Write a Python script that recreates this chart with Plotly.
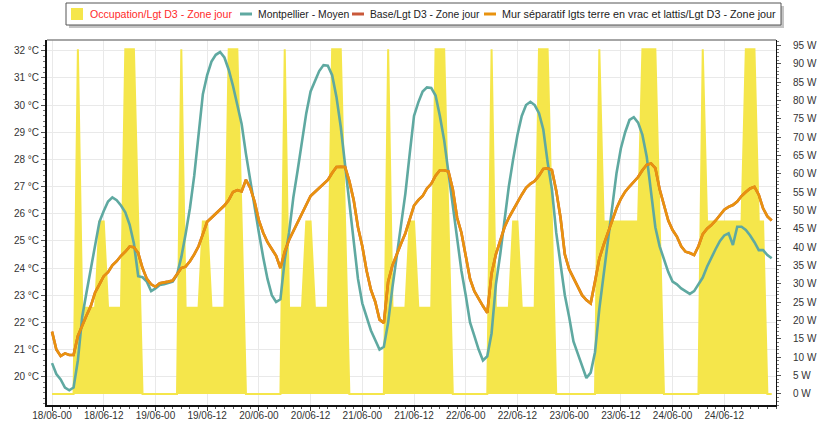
import plotly.graph_objects as go
import pandas as pd

# ---------------- data ----------------
start = pd.Timestamp("2012-06-18 00:00")
hours = list(range(168))
times = [start + pd.Timedelta(hours=h) for h in hours]

# Occupation / lighting (W), one list per day
occ_18 = [0, 0, 0, 0, 0, 0, 94, 23.5, 23.5, 23.5, 23.5, 47, 47, 23.5, 23.5, 23.5, 23.5, 94, 94, 94, 47, 0, 0, 0]
occ_19 = [0, 0, 0, 0, 0, 0, 94, 23.5, 23.5, 23.5, 23.5, 47, 47, 23.5, 23.5, 23.5, 23.5, 94, 94, 94, 47, 0, 0, 0]
occ_20 = [0, 0, 0, 0, 0, 0, 94, 23.5, 23.5, 23.5, 23.5, 47, 47, 23.5, 23.5, 23.5, 23.5, 94, 94, 94, 47, 0, 0, 0]
occ_21 = [0, 0, 0, 0, 0, 0, 94, 23.5, 23.5, 23.5, 23.5, 47, 47, 23.5, 23.5, 23.5, 23.5, 94, 94, 94, 47, 0, 0, 0]
occ_22 = [0, 0, 0, 0, 0, 0, 94, 23.5, 23.5, 23.5, 23.5, 47, 47, 23.5, 23.5, 23.5, 23.5, 94, 94, 94, 47, 0, 0, 0]
occ_23 = [0, 0, 0, 0, 0, 0, 0, 94, 47, 47, 47, 47, 47, 47, 47, 47, 47, 94, 94, 94, 94, 47, 0, 0]
occ_24 = [0, 0, 0, 0, 0, 0, 0, 94, 47, 47, 47, 47, 47, 47, 47, 47, 47, 94, 94, 94, 47, 47, 0, 0]
occupation = occ_18 + occ_19 + occ_20 + occ_21 + occ_22 + occ_23 + occ_24

# Montpellier - Moyen (outdoor temperature, °C)
montpellier = [
    20.5, 20.1, 19.9, 19.6, 19.5, 19.6, 20.6, 22.2, 23.1, 24.0, 24.9, 25.7,
    26.1, 26.45, 26.6, 26.5, 26.3, 26.05, 25.6, 24.9, 23.7, 23.66, 23.5, 23.15,
    23.25, 23.38, 23.4, 23.44, 23.5, 23.75, 24.4, 25.25, 26.2, 27.4, 28.9, 30.4,
    31.1, 31.6, 31.85, 31.95, 31.75, 31.3, 30.7, 30.05, 29.3, 28.2, 27.2, 26.3,
    25.3, 24.4, 23.6, 23.0, 22.75, 22.85, 24.3, 25.3, 26.6, 27.6, 28.7, 29.7,
    30.5, 30.85, 31.25, 31.47, 31.45, 31.1, 30.3, 29.2, 27.8, 26.3, 24.8, 23.6,
    22.7, 22.2, 21.7, 21.35, 21.0, 21.1, 22.0, 23.3, 24.5, 25.7, 26.75, 28.2,
    29.6, 30.1, 30.5, 30.65, 30.63, 30.35, 29.6, 28.7, 27.5, 26.2, 24.9, 23.9,
    23.0, 22.0, 21.5, 21.0, 20.6, 20.75, 21.6, 23.4, 24.5, 25.8, 27.0, 28.0,
    28.9, 29.6, 30.0, 30.12, 30.0, 29.7, 29.1, 27.9, 26.9, 25.3, 24.1, 23.0,
    22.2, 21.3, 20.85, 20.4, 19.95, 20.15, 20.9, 22.5, 23.8, 25.1, 26.4, 27.5,
    28.4, 29.0, 29.45, 29.55, 29.35, 28.9, 28.1, 26.7, 25.5, 24.8, 24.3, 23.85,
    23.5, 23.4, 23.25, 23.15, 23.05, 23.15, 23.4, 23.65, 24.05, 24.4, 24.7, 25.0,
    25.2, 25.28, 24.85, 25.52, 25.52, 25.4, 25.2, 24.95, 24.66, 24.66, 24.48, 24.36,
]

# Mur séparatif ... (indoor temperature, °C)
mur = [
    21.66, 21.0, 20.76, 20.86, 20.8, 20.8, 21.5, 21.9, 22.25, 22.6, 23.1, 23.4,
    23.7, 23.85, 24.1, 24.25, 24.45, 24.6, 24.79, 24.77, 24.55, 24.0, 23.6, 23.4,
    23.31, 23.44, 23.46, 23.5, 23.54, 23.75, 24.0, 24.05, 24.25, 24.5, 24.8, 25.25,
    25.7, 25.85, 26.0, 26.15, 26.3, 26.5, 26.8, 26.87, 26.82, 27.25, 26.95, 26.45,
    25.75, 25.3, 24.95, 24.7, 24.45, 24.0, 24.6, 25.03, 25.35, 25.65, 26.0, 26.3,
    26.65, 26.8, 26.95, 27.12, 27.24, 27.5, 27.72, 27.73, 27.72, 27.2, 26.5, 25.5,
    24.8, 23.9, 23.2, 22.76, 22.1, 21.98, 23.5, 24.1, 24.54, 24.9, 25.28, 25.8,
    26.3, 26.5, 26.65, 26.93, 27.1, 27.4, 27.6, 27.6, 27.55, 26.9, 25.85, 25.3,
    24.4, 23.6, 23.15, 22.85, 22.6, 22.35, 23.8, 24.5, 25.0, 25.5, 25.85, 26.15,
    26.45, 26.7, 26.95, 27.1, 27.2, 27.4, 27.65, 27.67, 27.61, 26.85, 25.85, 24.5,
    23.95, 23.65, 23.3, 23.0, 22.82, 22.7, 23.5, 24.35, 24.85, 25.3, 25.8, 26.2,
    26.55, 26.81, 27.0, 27.18, 27.35, 27.6, 27.8, 27.85, 27.68, 26.9, 26.3, 25.75,
    25.4, 25.16, 24.8, 24.6, 24.55, 24.48, 24.8, 25.25, 25.45, 25.58, 25.75, 25.97,
    26.15, 26.25, 26.32, 26.45, 26.65, 26.8, 26.93, 26.99, 26.7, 26.2, 25.9, 25.75,
]

# Base (overlaps the Mur série in the picture)
base = list(mur)

temp_ticks = [20, 21, 22, 23, 24, 25, 26, 27, 28, 29, 30, 31, 32]
temp_labels = [f"{v} °C" for v in temp_ticks]
x_ticks = times[::12]

names = [
    "Occupation/Lgt D3 - Zone jour",
    "Montpellier - Moyen",
    "Base/Lgt D3 - Zone jour",
    "Mur séparatif lgts terre en vrac et lattis/Lgt D3 - Zone jour",
]
colors = ["#F5E64B", "#5FA9A1", "#C9583A", "#E8920F"]
name_colors = ["#ff2a2a", "#222222", "#222222", "#222222"]

# ---------------- figure ----------------
FONT = "Liberation Sans"
W, H = 838, 424
ML, MR, MT, MB = 47, 62, 40, 19
PW, PH = W - ML - MR, H - MT - MB


def px(x):
    return (x - ML) / PW


def py(y):
    return (H - MB - y) / PH


fig = go.Figure()
fig.add_trace(go.Scatter(
    x=times, y=occupation, yaxis="y", mode="lines", name=names[0],
    fill="tozeroy", fillcolor=colors[0], line=dict(color=colors[0], width=2),
))
fig.add_trace(go.Scatter(
    x=times, y=montpellier, yaxis="y2", mode="lines", name=names[1],
    line=dict(color=colors[1], width=2.6),
))
fig.add_trace(go.Scatter(
    x=times, y=base, yaxis="y2", mode="lines", name=names[2],
    line=dict(color=colors[2], width=2.6),
))
fig.add_trace(go.Scatter(
    x=times, y=mur, yaxis="y2", mode="lines", name=names[3],
    line=dict(color=colors[3], width=2.6),
))

x0 = start - pd.Timedelta(minutes=70)
x1 = start + pd.Timedelta(minutes=int(168.0 * 60))

# ---- hand-made legend (single row, boxed with shadow) ----
leg_box = (66, 3, 781, 25)
sym_x = [71, 240, 352, 484]
txt_x = [88, 256, 368, 500]
leg_cy = 14
leg_sizes = [10.6, 10.4, 10.3, 10.8]

shapes = [
    dict(type="line", xref="paper", yref="paper", x0=0, x1=1, y0=1, y1=1,
         line=dict(color="#888", width=1.5)),
    dict(type="rect", xref="paper", yref="paper",
         x0=px(leg_box[0] + 3), x1=px(leg_box[2] + 3), y0=py(leg_box[3] + 3), y1=py(leg_box[1] + 3),
         fillcolor="#c4c4c4", line=dict(width=0), layer="above"),
    dict(type="rect", xref="paper", yref="paper",
         x0=px(leg_box[0]), x1=px(leg_box[2]), y0=py(leg_box[3]), y1=py(leg_box[1]),
         fillcolor="white", line=dict(color="#555", width=1), layer="above"),
    dict(type="rect", xref="paper", yref="paper",
         x0=px(sym_x[0]), x1=px(sym_x[0] + 12), y0=py(leg_cy + 6), y1=py(leg_cy - 6),
         fillcolor=colors[0], line=dict(width=0), layer="above"),
]
for i in (1, 2, 3):
    shapes.append(dict(type="line", xref="paper", yref="paper",
                       x0=px(sym_x[i]), x1=px(sym_x[i] + 12), y0=py(leg_cy), y1=py(leg_cy),
                       line=dict(color=colors[i], width=3), layer="above"))

annotations = []
for i in range(4):
    annotations.append(dict(
        xref="paper", yref="paper", x=px(txt_x[i]), y=py(leg_cy),
        xanchor="left", yanchor="middle", showarrow=False, text=names[i],
        font=dict(family=FONT, size=leg_sizes[i], color=name_colors[i]),
    ))

fig.update_layout(
    width=W, height=H,
    margin=dict(l=ML, r=MR, t=MT, b=MB, pad=0),
    paper_bgcolor="white", plot_bgcolor="white",
    font=dict(family=FONT, size=10, color="#333"),
    showlegend=False,
    xaxis=dict(
        type="date", range=[x0, x1], automargin=False,
        tickvals=x_ticks, tickformat="%d/%m-%H",
        showgrid=True, gridcolor="#e9e9e9", gridwidth=1,
        showline=True, linecolor="#111", linewidth=2,
        ticks="outside", ticklen=4, tickcolor="#333",
        ticklabelstandoff=-4,
        minor=dict(ticks="outside", ticklen=2, tickcolor="#555", dtick=2 * 3600 * 1000, showgrid=False),
        zeroline=False,
        tickfont=dict(family=FONT, size=10, color="#333"),
    ),
    yaxis=dict(
        side="right", range=[-3.0, 96.5], dtick=5, tick0=0, automargin=False,
        ticksuffix=" W", showgrid=False, zeroline=False,
        showline=True, linecolor="#111", linewidth=1,
        ticks="outside", ticklen=4, tickcolor="#555",
        ticklabelstandoff=10,
        minor=dict(ticks="outside", ticklen=2, tickcolor="#777", dtick=1),
        tickfont=dict(family=FONT, size=10, color="#333"),
    ),
    yaxis2=dict(
        overlaying="y", side="left", anchor="x", automargin=False,
        range=[18.958, 32.394], tickmode="array", tickvals=temp_ticks, ticktext=temp_labels,
        showgrid=True, gridcolor="#e9e9e9", gridwidth=1, zeroline=False,
        showline=True, linecolor="#111", linewidth=2,
        ticks="outside", ticklen=4, tickcolor="#555",
        minor=dict(ticks="outside", ticklen=2, tickcolor="#777", dtick=0.2, showgrid=False),
        tickfont=dict(family=FONT, size=10, color="#333"),
    ),
    shapes=shapes,
    annotations=annotations,
)

fig.write_html(
    "out.html",
    config={"displayModeBar": False},
    post_script="document.body.style.margin='0';document.body.style.overflow='hidden';",
)
